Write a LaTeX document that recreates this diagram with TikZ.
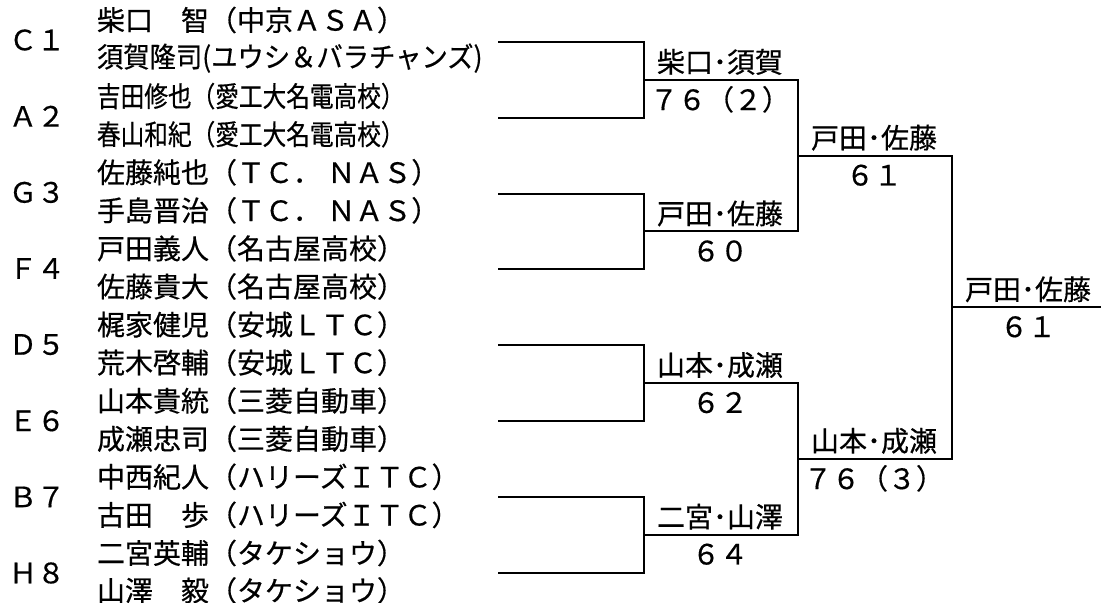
\documentclass[tikz,border=0pt]{standalone}
\usepackage{fontspec}
\usepackage{graphicx}
\setmainfont{Noto Sans CJK JP}[FakeBold=0.5]

\begin{document}
\begin{tikzpicture}[x=0.5pt,y=-0.5pt,line width=1pt,
                   every node/.style={inner sep=0pt,font=\fontsize{14}{16}\selectfont},
                   player/.style={anchor=west}, seed/.style={anchor=west}, winner/.style={anchor=center}]
\useasboundingbox (0,0) rectangle (1101,603);
% seeds
\node[seed] (c1) at (8,40) {Ｃ１};
\node[seed] (a2) at (8,116.2) {Ａ２};
\node[seed] (g3) at (8,192.4) {Ｇ３};
\node[seed] (f4) at (8,268.5) {Ｆ４};
\node[seed] (d5) at (8,344.6) {Ｄ５};
\node[seed] (e6) at (8,420.8) {Ｅ６};
\node[seed] (b7) at (8,496.9) {Ｂ７};
\node[seed] (h8) at (8,573) {Ｈ８};
% players
\node[player] (p1) at (96,20) {柴口　智（中京ＡＳＡ）};
\node[player] (p2) at (96,58.1) {\scalebox{0.94}[1]{須賀隆司(ユウシ＆バラチャンズ)}};
\node[player] (p3) at (96,96.1) {\scalebox{0.845}[1]{吉田修也（愛工大名電高校）}};
\node[player] (p4) at (96,134.2) {\scalebox{0.845}[1]{春山和紀（愛工大名電高校）}};
\node[player] (p5) at (96,172.3) {佐藤純也（ＴＣ． ＮＡＳ）};
\node[player] (p6) at (96,210.4) {手島晋治（ＴＣ． ＮＡＳ）};
\node[player] (p7) at (96,248.4) {戸田義人（名古屋高校）};
\node[player] (p8) at (96,286.5) {佐藤貴大（名古屋高校）};
\node[player] (p9) at (96,324.6) {梶家健児（安城ＬＴＣ）};
\node[player] (p10) at (96,362.6) {荒木啓輔（安城ＬＴＣ）};
\node[player] (p11) at (96,400.7) {山本貴統（三菱自動車）};
\node[player] (p12) at (96,438.8) {成瀬忠司（三菱自動車）};
\node[player] (p13) at (96,476.8) {中西紀人（ハリーズＩＴＣ）};
\node[player] (p14) at (96,514.9) {古田　歩（ハリーズＩＴＣ）};
\node[player] (p15) at (96,553) {二宮英輔（タケショウ）};
\node[player] (p16) at (96,590.5) {山澤　毅（タケショウ）};
% bracket ends
\coordinate (s1) at (498,42);
\coordinate (s2) at (498,117.8);
\coordinate (s3) at (498,193.6);
\coordinate (s4) at (498,269.4);
\coordinate (s5) at (498,345.2);
\coordinate (s6) at (498,421);
\coordinate (s7) at (498,496.8);
\coordinate (s8) at (498,572.6);
\coordinate (m1) at (644,79.9);
\coordinate (m2) at (644,231.5);
\coordinate (m3) at (644,383.1);
\coordinate (m4) at (644,534.7);
\coordinate (n1) at (798,155.7);
\coordinate (n2) at (798,458.9);
\coordinate (f) at (952,307.3);
\coordinate (e) at (1101,307.3);
\draw (s1) -| (m1) |- (s2);
\draw (s3) -| (m2) |- (s4);
\draw (s5) -| (m3) |- (s6);
\draw (s7) -| (m4) |- (s8);
\draw (m1) -| (n1) |- (m2);
\draw (m3) -| (n2) |- (m4);
\draw (n1) -| (f) |- (n2);
\draw (f) -- (e);
% results
\node[winner] (w1) at (720,61.9) {柴口･須賀};
\node[winner] (r1) at (720,99.4) {７６（２）};
\node[winner] (w2) at (720,213.5) {戸田･佐藤};
\node[winner] (r2) at (720,251) {６０};
\node[winner] (w3) at (720,365.1) {山本･成瀬};
\node[winner] (r3) at (720,402.6) {６２};
\node[winner] (w4) at (720,516.7) {二宮･山澤};
\node[winner] (r4) at (720,554.2) {６４};
\node[winner] (w5) at (874,137.7) {戸田･佐藤};
\node[winner] (r5) at (874,175.2) {６１};
\node[winner] (w6) at (874,440.9) {山本･成瀬};
\node[winner] (r6) at (874,478.4) {７６（３）};
\node[winner] (w7) at (1028,289.3) {戸田･佐藤};
\node[winner] (r7) at (1028,326.8) {６１};
\end{tikzpicture}
\end{document}
